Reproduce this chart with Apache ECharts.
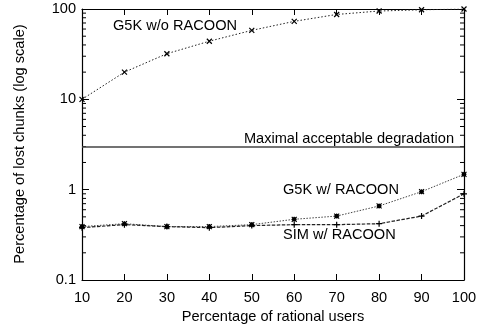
<!DOCTYPE html>
<html>
<head>
<meta charset="utf-8">
<script src="https://cdn.jsdelivr.net/npm/echarts@6/dist/echarts.min.js"></script>
<style>html,body{margin:0;padding:0;background:#fff}#c{width:484px;height:328px}</style>
</head>
<body>
<div id="c"></div>
<script>
var xValues = [10, 20, 30, 40, 50, 60, 70, 80, 90, 100];
var g5kWithout = [10, 20, 32, 44, 58, 73, 87, 95, 98, 100];
var g5kWith = [0.39, 0.42, 0.39, 0.39, 0.41, 0.47, 0.51, 0.66, 0.95, 1.48];
var simWith = [0.38, 0.41, 0.39, 0.38, 0.40, 0.41, 0.41, 0.42, 0.51, 0.90];
var threshold = 3;
var yMinorTicks = [0.2,0.3,0.4,0.5,0.6,0.7,0.8,0.9,2,3,4,5,6,7,8,9,20,30,40,50,60,70,80,90];

var FONT = 'Liberation Sans';
var FS = 14.6;
var FONTSTR = FS + 'px "Liberation Sans"';
function pairs(arr){ return xValues.map(function(x,i){ return [x, arr[i]]; }); }

var chart = echarts.init(document.getElementById('c'), null, {renderer:'canvas'});
var axisLine = {show:true, lineStyle:{color:'#000', width:1.2}};
var option = {
  backgroundColor:'#fff',
  animation:false,
  grid:{left:82, right:20, top:9, bottom:48, containLabel:false},
  xAxis:[{
    type:'value', min:10, max:100, interval:10, position:'bottom',
    axisLine:axisLine, splitLine:{show:false},
    axisTick:{show:true, inside:true, length:6, lineStyle:{color:'#000'}},
    axisLabel:{fontFamily:FONT, fontSize:FS, color:'#000', margin:10}
  },{
    type:'value', min:10, max:100, interval:10, position:'top',
    axisLine:axisLine, splitLine:{show:false},
    axisTick:{show:true, inside:true, length:6, lineStyle:{color:'#000'}},
    axisLabel:{show:false}
  }],
  yAxis:[{
    type:'log', logBase:10, min:0.1, max:100, position:'left',
    axisLine:axisLine, splitLine:{show:false},
    axisTick:{show:true, inside:true, length:7, lineStyle:{color:'#000'}},
    axisLabel:{fontFamily:FONT, fontSize:FS, color:'#000', margin:6,
      formatter:function(v){ return String(v); }}
  },{
    type:'log', logBase:10, min:0.1, max:100, position:'right',
    axisLine:axisLine, splitLine:{show:false},
    axisTick:{show:true, inside:true, length:7, lineStyle:{color:'#000'}},
    axisLabel:{show:false}
  }],
  series:[{
    type:'line', name:'G5K w/o RACOON', data:pairs(g5kWithout),
    symbol:'path://M0,0L10,10M10,0L0,10', symbolSize:5,
    itemStyle:{color:'none', borderColor:'#000', borderWidth:1.2},
    lineStyle:{color:'#222', width:1, type:[1.5,2]},
    markLine:{silent:true, symbol:'none', label:{show:false},
      lineStyle:{color:'#444', width:1.6, type:'solid'},
      data:[{yAxis:threshold}]}
  },{
    type:'line', name:'G5K w/ RACOON', data:pairs(g5kWith),
    symbol:'path://M0,0L10,10M10,0L0,10M5,0L5,10M0,5L10,5M2,2H8V8H2Z', symbolSize:5,
    itemStyle:{color:'#000', borderColor:'#000', borderWidth:1.1},
    lineStyle:{color:'#444', width:1, type:[1.5,1.5]}
  },{
    type:'line', name:'SIM w/ RACOON', data:pairs(simWith),
    symbol:'path://M5,0L5,10M0,5L10,5', symbolSize:6,
    itemStyle:{color:'none', borderColor:'#000', borderWidth:1.2},
    lineStyle:{color:'#222', width:1.2, type:[3.5,1.5]}
  },{
    type:'custom', silent:true, xAxisIndex:0, yAxisIndex:0,
    data:yMinorTicks.map(function(v){ return [10, v]; }),
    renderItem:function(params, api){
      var y = api.value(1);
      var l = api.coord([10, y]);
      var r = api.coord([100, y]);
      return {type:'group', children:[
        {type:'line', shape:{x1:l[0], y1:l[1], x2:l[0]+4, y2:l[1]}, style:{stroke:'#000', lineWidth:1}},
        {type:'line', shape:{x1:r[0], y1:r[1], x2:r[0]-4, y2:r[1]}, style:{stroke:'#000', lineWidth:1}}
      ]};
    }
  }],
  graphic:[
    {type:'text', x:113, y:26, style:{text:'G5K w/o RACOON', font:FONTSTR, fill:'#000', textAlign:'left', textVerticalAlign:'middle'}},
    {type:'text', x:454, y:139, style:{text:'Maximal acceptable degradation', font:FONTSTR, fill:'#000', textAlign:'right', textVerticalAlign:'middle'}},
    {type:'text', x:283, y:190, style:{text:'G5K w/ RACOON', font:FONTSTR, fill:'#000', textAlign:'left', textVerticalAlign:'middle'}},
    {type:'text', x:283, y:235, style:{text:'SIM w/ RACOON', font:FONTSTR, fill:'#000', textAlign:'left', textVerticalAlign:'middle'}},
    {type:'text', x:273, y:317, style:{text:'Percentage of rational users', font:FONTSTR, fill:'#000', textAlign:'center', textVerticalAlign:'middle'}},
    {type:'text', x:20, y:144, rotation:Math.PI/2, style:{text:'Percentage of lost chunks (log scale)', font:FONTSTR, fill:'#000', textAlign:'center', textVerticalAlign:'middle'}}
  ]
};
chart.setOption(option);
</script>
</body>
</html>
